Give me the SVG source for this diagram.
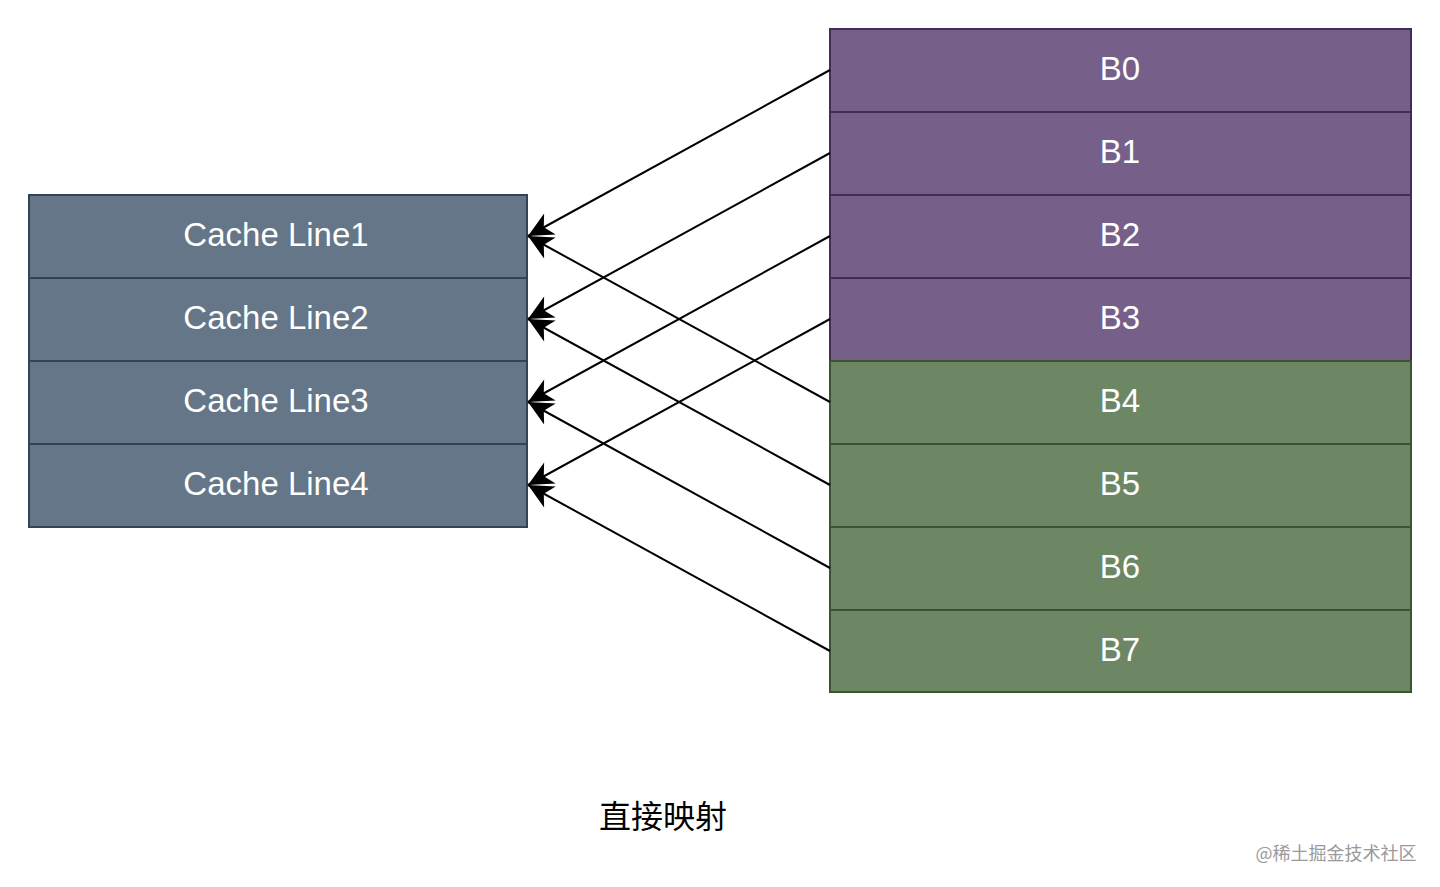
<svg xmlns="http://www.w3.org/2000/svg" width="1440" height="887" viewBox="0 0 1440 887">
<style>
.c{fill:#647687;stroke:#314354;stroke-width:2}
.p{fill:#76608a;stroke:#432d57;stroke-width:2}
.g{fill:#6d8764;stroke:#3a5431;stroke-width:2}
.t{font-family:"Liberation Sans",Arial,sans-serif;font-size:33px;fill:#ffffff;text-anchor:middle;dominant-baseline:central}
.e{stroke:#000;stroke-width:2;fill:none;marker-end:url(#a)}
</style>
<defs>
<marker id="a" markerUnits="userSpaceOnUse" markerWidth="30" markerHeight="30" viewBox="0 0 30 30" refX="27" refY="15" orient="auto">
<path d="M27,15 L2,3 L9,15 L2,27 Z" fill="#000"/>
</marker>
</defs>
<rect width="1440" height="887" fill="#fff"/>
<g id="cache1"><rect class="c" x="29" y="195" width="498" height="83"/><text class="t" x="276" y="234">Cache Line1</text></g>
<g id="cache2"><rect class="c" x="29" y="278" width="498" height="83"/><text class="t" x="276" y="317">Cache Line2</text></g>
<g id="cache3"><rect class="c" x="29" y="361" width="498" height="83"/><text class="t" x="276" y="400">Cache Line3</text></g>
<g id="cache4"><rect class="c" x="29" y="444" width="498" height="83"/><text class="t" x="276" y="483">Cache Line4</text></g>
<g id="b0"><rect class="p" x="830" y="29" width="581" height="83"/><text class="t" x="1120" y="68">B0</text></g>
<g id="b1"><rect class="p" x="830" y="112" width="581" height="83"/><text class="t" x="1120" y="151">B1</text></g>
<g id="b2"><rect class="p" x="830" y="195" width="581" height="83"/><text class="t" x="1120" y="234">B2</text></g>
<g id="b3"><rect class="p" x="830" y="278" width="581" height="83"/><text class="t" x="1120" y="317">B3</text></g>
<g id="b4"><rect class="g" x="830" y="361" width="581" height="83"/><text class="t" x="1120" y="400">B4</text></g>
<g id="b5"><rect class="g" x="830" y="444" width="581" height="83"/><text class="t" x="1120" y="483">B5</text></g>
<g id="b6"><rect class="g" x="830" y="527" width="581" height="83"/><text class="t" x="1120" y="566">B6</text></g>
<g id="b7"><rect class="g" x="830" y="610" width="581" height="82"/><text class="t" x="1120" y="649">B7</text></g>
<g id="connectors">
<line class="e" x1="830" y1="70" x2="528" y2="236"/>
<line class="e" x1="830" y1="153" x2="528" y2="319"/>
<line class="e" x1="830" y1="236" x2="528" y2="402"/>
<line class="e" x1="830" y1="319" x2="528" y2="485"/>
<line class="e" x1="830" y1="402" x2="528" y2="236"/>
<line class="e" x1="830" y1="485" x2="528" y2="319"/>
<line class="e" x1="830" y1="568" x2="528" y2="402"/>
<line class="e" x1="830" y1="651" x2="528" y2="485"/>
</g>
<text x="663" y="814" font-family="'Noto Sans CJK SC',sans-serif" font-size="32" fill="#000" text-anchor="middle" dominant-baseline="central">直接映射</text>
<text x="1336" y="852" font-family="'Noto Sans CJK SC',sans-serif" font-size="18" fill="#9a9a9a" text-anchor="middle" dominant-baseline="central">@稀土掘金技术社区</text>
</svg>
